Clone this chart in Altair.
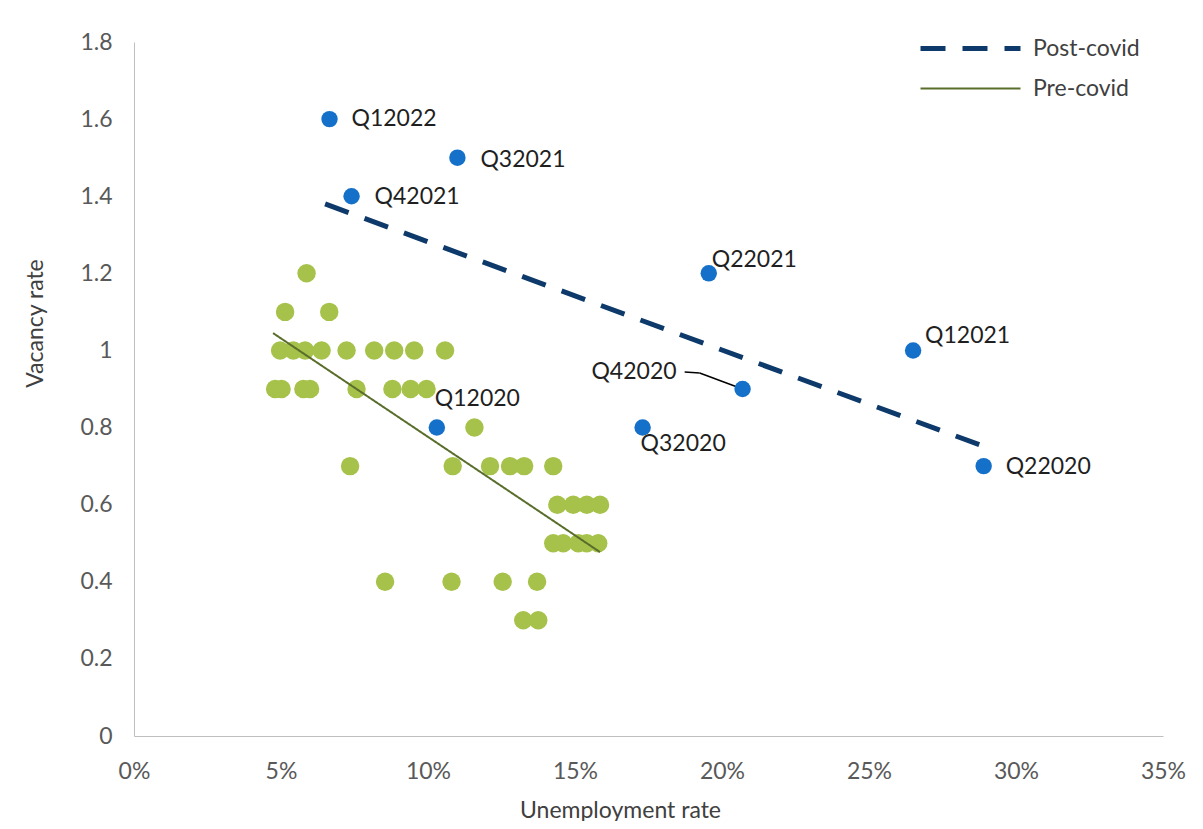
import altair as alt
import pandas as pd

# ---- data ----
# Pre-covid observations (unemployment rate in %, vacancy rate)
pre_x = [5.87,
         5.14, 6.64,
         4.97, 5.42, 5.82, 6.38, 7.23, 8.17, 8.85, 9.53, 10.58,
         4.80, 5.02, 5.76, 5.99, 7.57, 8.79, 9.41, 9.95,
         11.58,
         7.35, 10.84, 12.11, 12.79, 13.27, 14.26,
         14.40, 14.94, 15.40, 15.85,
         14.26, 14.60, 15.11, 15.40, 15.79,
         8.54, 10.80, 12.54, 13.71,
         13.24, 13.75]
pre_y = [1.2,
         1.1, 1.1,
         1.0, 1.0, 1.0, 1.0, 1.0, 1.0, 1.0, 1.0, 1.0,
         0.9, 0.9, 0.9, 0.9, 0.9, 0.9, 0.9, 0.9,
         0.8,
         0.7, 0.7, 0.7, 0.7, 0.7, 0.7,
         0.6, 0.6, 0.6, 0.6,
         0.5, 0.5, 0.5, 0.5, 0.5,
         0.4, 0.4, 0.4, 0.4,
         0.3, 0.3]

# Covid-era quarters
post_labels = ["Q12020", "Q22020", "Q32020", "Q42020", "Q12021",
               "Q22021", "Q32021", "Q42021", "Q12022"]
post_x = [10.3, 28.9, 17.3, 20.7, 26.5, 19.55, 11.0, 7.4, 6.65]
post_y = [0.8, 0.7, 0.8, 0.9, 1.0, 1.2, 1.5, 1.4, 1.6]

# Trend lines (end points)
trend_series = ["Post-covid", "Post-covid", "Pre-covid", "Pre-covid"]
trend_x = [6.5, 28.95, 4.73, 15.85]
trend_y = [1.38, 0.75, 1.045, 0.477]

x_ticks = [0, 0.05, 0.10, 0.15, 0.20, 0.25, 0.30, 0.35]
y_ticks = [0, 0.2, 0.4, 0.6, 0.8, 1.0, 1.2, 1.4, 1.6, 1.8]

# ---- tables ----
pre_df = pd.DataFrame({"u": [v / 100 for v in pre_x], "v": pre_y})
post_df = pd.DataFrame({"label": post_labels,
                        "u": [v / 100 for v in post_x], "v": post_y})
trend_df = pd.DataFrame({"series": trend_series,
                         "u": [v / 100 for v in trend_x], "v": trend_y})

FONT = "Lato"
GREEN = "#A6C24A"
BLUE = "#1570C9"
NAVY = "#0D3A6A"
OLIVE = "#5A6E2C"

x_enc = alt.X("u:Q", scale=alt.Scale(domain=[0, 0.35], nice=False, zero=True),
              axis=alt.Axis(values=x_ticks, format=".0%", title="Unemployment rate",
                            titleX=486, titleY=81, titleBaseline="alphabetic",
                            titleAlign="center", labelPadding=24, labelFlush=False))
y_enc = alt.Y("v:Q", scale=alt.Scale(domain=[0, 1.8], nice=False),
              axis=alt.Axis(values=y_ticks, format=".1~f", title="Vacancy rate",
                            titleX=-99, titleY=281, titleBaseline="middle",
                            titleAlign="center", labelPadding=22, labelFlush=False))

green = alt.Chart(pre_df).mark_circle(size=340, color=GREEN, opacity=1).encode(
    x=x_enc, y=y_enc)

lines = alt.Chart(trend_df).mark_line(strokeCap="butt").encode(
    x="u:Q", y="v:Q",
    color=alt.Color("series:N",
                    scale=alt.Scale(domain=["Post-covid", "Pre-covid"], range=[NAVY, OLIVE]),
                    legend=alt.Legend(title=None, orient="none", legendX=824, legendY=-6,
                                      symbolType="M-5,0H5", symbolSize=400,
                                      symbolStrokeWidth=3.5,
                                      labelFont=FONT, labelFontSize=23, labelColor="#404040",
                                      labelOffset=50, rowPadding=16, padding=0)),
    strokeDash=alt.StrokeDash("series:N",
                              scale=alt.Scale(domain=["Post-covid", "Pre-covid"],
                                              range=[[25, 17], [1, 0]]),
                              legend=None),
    strokeWidth=alt.StrokeWidth("series:N",
                                scale=alt.Scale(domain=["Post-covid", "Pre-covid"], range=[5, 2]),
                                legend=None),
    detail="series:N")

leader_base = alt.Chart(post_df).transform_filter(alt.datum.label == "Q42020")
leader1 = leader_base.transform_calculate(
    u2="datum.u - 0.0146", v2="datum.v + 0.0415").mark_rule(
    color="#000000", strokeWidth=1.5).encode(x="u:Q", y="v:Q", x2="u2:Q", y2="v2:Q")
leader2 = leader_base.transform_calculate(
    ua="datum.u - 0.0146", va="datum.v + 0.0415",
    ub="datum.u - 0.0197", vb="datum.v + 0.044").mark_rule(
    color="#000000", strokeWidth=1.5).encode(x="ua:Q", y="va:Q", x2="ub:Q", y2="vb:Q")

blue = alt.Chart(post_df).mark_circle(size=270, color=BLUE, opacity=1).encode(
    x="u:Q", y="v:Q")

# label placement styles (pixel offsets from each point)
label_style = {
    "Q12022": ("left", 22, 0),
    "Q32021": ("left", 23, 2),
    "Q42021": ("left", 23, 1),
    "Q22021": ("left", 3, -13),
    "Q12021": ("left", 12, -14),
    "Q42020": ("right", -66, -17),
    "Q22020": ("left", 22, 1),
    "Q32020": ("left", -2, 16),
    "Q12020": ("left", -2, -29),
}
texts = []
for name, (al, dx, dy) in label_style.items():
    texts.append(
        alt.Chart(post_df).transform_filter(alt.datum.label == name).mark_text(
            align=al, baseline="middle", dx=dx, dy=dy, font=FONT, fontSize=23,
            color="#1f1f1f").encode(x="u:Q", y="v:Q", text="label:N"))

chart = alt.layer(green, lines, leader1, leader2, blue, *texts).properties(
    width=1029, height=694,
    autosize=alt.AutoSizeParams(type="none"),
    padding={"left": 126, "top": 34, "right": 32, "bottom": 85},
).configure_view(stroke=None).configure_axis(
    grid=False, ticks=False, domainColor="#BFBFBF", domainWidth=1,
    labelFont=FONT, labelFontSize=23, labelColor="#595959",
    titleFont=FONT, titleFontSize=23, titleColor="#404040", titleFontWeight="normal",
)

chart.save("out.html", embed_options={"renderer": "svg", "actions": False})
